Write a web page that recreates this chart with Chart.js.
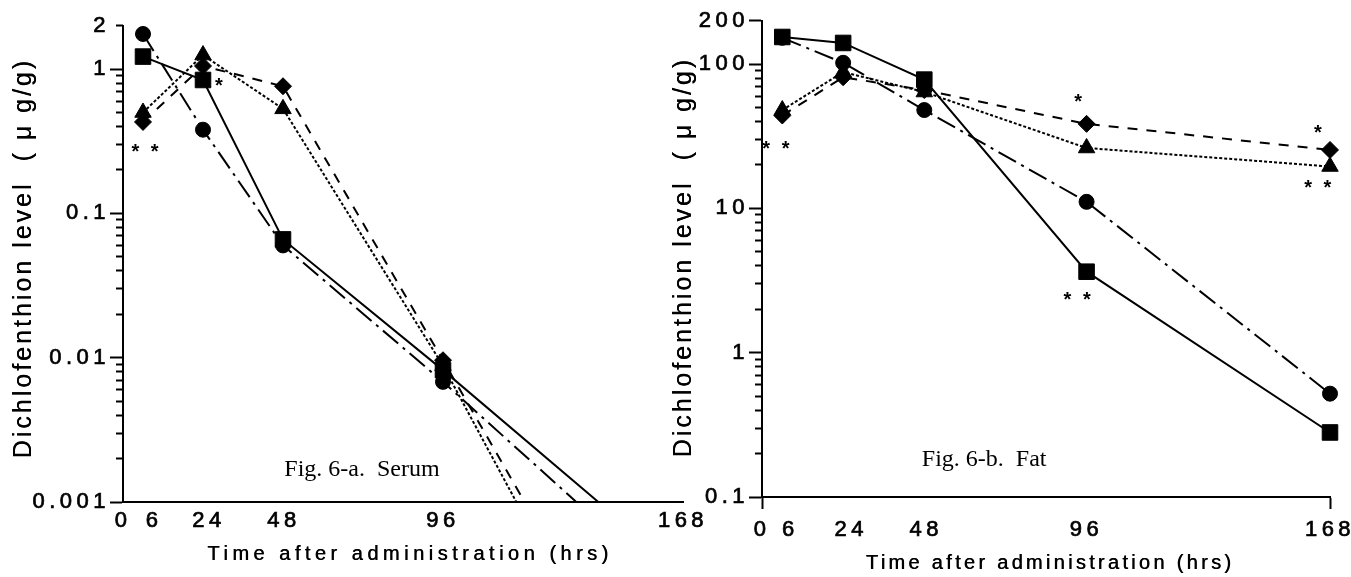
<!DOCTYPE html>
<html><head><meta charset="utf-8">
<script src="https://cdn.jsdelivr.net/npm/chart.js@4.4.1/dist/chart.umd.min.js"></script>
<style>
html,body{margin:0;padding:0;background:#fff;width:1351px;height:577px;overflow:hidden;position:relative}
#wa{position:absolute;left:0;top:0;width:720px;height:577px}
#wb{position:absolute;left:660px;top:0;width:720px;height:577px}
canvas{display:block}
</style></head><body>
<div id="wa"><canvas id="ca" width="720" height="577"></canvas></div>
<div id="wb"><canvas id="cb" width="720" height="577"></canvas></div>
<script>
// ---------------- data ----------------
const xTickLabels = [0, 6, 24, 48, 96, 168];

// Fig. 6-a  Serum (ug/g)
const serumHours    = [6, 24, 48, 96];
const serumSquare   = [1.22, 0.84, 0.066, 0.0082];
const serumCircle   = [1.75, 0.38, 0.060, 0.0068];
const serumTriangle = [0.50, 1.25, 0.53, 0.0088];
const serumDiamond  = [0.43, 1.05, 0.76, 0.0096];
// hour at which each serum line runs out through the 0.001 floor
const serumExitHour = {square: 142.6, circle: 136, triangle: 118, diamond: 120.5};
const serumFloor = 0.001;
const serumYTicks = [2, 1, 0.1, 0.01, 0.001];
const serumYMajor = [1, 0.1, 0.01, 0.001];

// Fig. 6-b  Fat (ug/g)
const fatHours    = [6, 24, 48, 96, 168];
const fatSquare   = [154, 140, 78, 3.64, 0.28];
const fatCircle   = [152, 102, 48, 11.1, 0.52];
const fatTriangle = [48, 88, 64, 26.2, 19.5];
const fatDiamond  = [44, 81, 66, 38.5, 25.4];
const fatYTicks = [200, 100, 10, 1, 0.1];
const fatYMajor = [200, 100, 10, 1, 0.1];

// significance marks (text, hour, level)
const serumMarks = [['* *', 6.6, 0.284], ['*', 28.8, 0.813]];
const fatMarks = [['* *', 4.1, 27.5], ['*', 93.5, 58], ['*', 164.4, 35.5], ['* *', 164.4, 14.7], ['* *', 93.2, 2.47]];
const serumCaption = ['Fig. 6-a.  Serum', 71.7, 0.00167];
const fatCaption = ['Fig. 6-b.  Fat', 65.7, 0.18];

// ---------------- styles ----------------
const FONT = '"Liberation Sans", Arial, sans-serif';
const STYLE = {
  square:   {point: 'rect',     r: 11,  dash: []},
  circle:   {point: 'circle',   r: 7.5, dash: [20, 6, 3, 6]},
  triangle: {point: 'triangle', r: 9.5, dash: [3, 2]},
  diamond:  {point: 'rectRot',  r: 8.5, dash: [10, 9]}
};
// per-chart text tweaks: title letter spacing / shift, tick-label nudges (px)
const TEXT = {
  'ca:x': {spacing: 4.5, dx: 7, dy: 0, nudge: {6: 11, 24: 6, 48: 1}},
  'ca:y': {spacing: 3, dx: 0, dy: -6},
  'cb:x': {spacing: 3.3, dx: 4, dy: 0, nudge: {6: 8, 24: 8, 48: 2}},
  'cb:y': {spacing: 3, dx: 0, dy: -2}
};
function tw(scale) { return TEXT[scale.chart.canvas.id + ':' + scale.id]; }

const _drawTitle = Chart.Scale.prototype.drawTitle;
Chart.Scale.prototype.drawTitle = function (...a) {
  const t = tw(this);
  if (!t) return _drawTitle.apply(this, a);
  const c = this.ctx;
  c.save();
  c.letterSpacing = t.spacing + 'px';
  c.translate(t.dx, t.dy);
  _drawTitle.apply(this, a);
  c.translate(0.5, 0.3);
  _drawTitle.apply(this, a);
  c.restore();
};
const _cli = Chart.Scale.prototype._computeLabelItems;
Chart.Scale.prototype._computeLabelItems = function (...a) {
  const items = _cli.apply(this, a);
  const t = tw(this);
  if (t && t.nudge) {
    try {
      items.forEach((it, i) => {
        const d = t.nudge[this.ticks[i] && this.ticks[i].value];
        if (d && it.options && it.options.translation) it.options.translation[0] += d;
      });
    } catch (e) {}
  }
  return items;
};

function series(key, hours, values, exitHour, floor) {
  const st = STYLE[key];
  const pts = hours.map((h, i) => ({x: h, y: values[i]}));
  const hasExit = exitHour !== undefined;
  if (hasExit) pts.push({x: exitHour, y: floor});
  const n = pts.length;
  return {
    label: key, data: pts, borderColor: '#000', backgroundColor: '#000', borderWidth: 2,
    borderDash: st.dash, pointStyle: st.point,
    pointRadius: c => (hasExit && c.dataIndex === n - 1) ? 0 : st.r,
    pointBorderWidth: 1, pointBackgroundColor: '#000', pointBorderColor: '#000',
    tension: 0, fill: false, clip: false
  };
}

function minorTicks(min, max, exclude) {
  const out = [];
  for (let e = Math.floor(Math.log10(min)); e <= Math.ceil(Math.log10(max)); e++) {
    for (let m = 1; m <= 9; m++) {
      const v = +(m * Math.pow(10, e)).toPrecision(6);
      if (v >= min * 0.999 && v <= max * 1.001 && !exclude.some(x => Math.abs(x - v) / v < 1e-6)) out.push(v);
    }
  }
  return out;
}

const notesPlugin = {
  id: 'notes',
  beforeUpdate(chart) { chart.ctx.letterSpacing = '4.5px'; },
  beforeDraw(chart) { chart.ctx.letterSpacing = '4.5px'; },
  afterDraw(chart, args, opts) {
    const ctx = chart.ctx, xs = chart.scales.x, ys = chart.scales.y;
    ctx.save();
    ctx.fillStyle = '#000';
    ctx.letterSpacing = '0px';
    ctx.font = '24px "Liberation Serif", "Times New Roman", serif';
    ctx.textAlign = 'center'; ctx.textBaseline = 'middle';
    const cap = opts.caption;
    ctx.fillText(cap[0], xs.getPixelForValue(cap[1]), ys.getPixelForValue(cap[2]));
    ctx.letterSpacing = '3px';
    ctx.font = 'bold 20px ' + FONT;
    ctx.textBaseline = 'alphabetic';
    for (const mk of opts.marks) {
      const m = ctx.measureText(mk[0]);
      const yc = ys.getPixelForValue(mk[2]) + (m.actualBoundingBoxAscent - m.actualBoundingBoxDescent) / 2;
      ctx.fillText(mk[0], xs.getPixelForValue(mk[1]) + 1.5, yc);
    }
    ctx.restore();
  }
};

function makeChart(id, cfg) {
  return new Chart(document.getElementById(id), {
    type: 'line',
    data: {datasets: cfg.datasets},
    plugins: [notesPlugin],
    options: {
      responsive: false, animation: false, maintainAspectRatio: false,
      layout: {padding: {left: 0, right: cfg.padRight, top: cfg.padTop, bottom: 0}},
      plugins: {legend: {display: false}, tooltip: {enabled: false},
                notes: {marks: cfg.marks, caption: cfg.caption}},
      scales: {
        x: {
          type: 'linear', min: 0, max: 168, position: 'bottom',
          afterBuildTicks: s => { s.ticks = xTickLabels.map(v => ({value: v})); },
          afterFit: s => { s.height = cfg.xAxisHeight; },
          ticks: {autoSkip: false, maxRotation: 0, minRotation: 0, padding: cfg.xTickPad, color: '#000',
                  textStrokeColor: '#000', textStrokeWidth: 0.7,
                  font: {family: FONT, size: 22}, callback: v => String(v)},
          grid: {display: true, drawOnChartArea: false, drawTicks: true, tickLength: cfg.xTickLen, tickWidth: 2,
                 tickColor: c => (c.tick && cfg.xTickMarks.includes(c.tick.value)) ? '#000' : 'rgba(0,0,0,0)'},
          border: {display: true, color: '#000', width: 2},
          title: {display: true, text: 'Time after administration (hrs)', color: '#000',
                  font: {family: FONT, size: 20}, padding: {top: 0, bottom: cfg.xTitlePad}}
        },
        y: {
          type: 'logarithmic', position: 'left', weight: 1, min: cfg.yMin, max: cfg.yMax,
          afterBuildTicks: s => { s.ticks = cfg.yLabels.map(v => ({value: v})); },
          afterFit: s => { s.width = cfg.yAxisWidth; },
          ticks: {padding: cfg.yTickPad, color: '#000', font: {family: FONT, size: 22},
                  textStrokeColor: '#000', textStrokeWidth: 0.7,
                  callback: v => cfg.yLabels.includes(v) ? String(v) : ''},
          grid: {display: true, drawOnChartArea: false, drawTicks: true, tickLength: 13, tickWidth: 2,
                 tickColor: c => (c.tick && cfg.yMajor.includes(c.tick.value)) ? '#000' : 'rgba(0,0,0,0)'},
          border: {display: true, color: '#000', width: 2},
          title: {display: true, text: 'Dichlofenthion level  ( μ g/g)', color: '#000',
                  font: {family: FONT, size: 25}, padding: {top: cfg.yTitlePad, bottom: 0}}
        },
        yMinor: {
          type: 'logarithmic', position: 'left', weight: 0, min: cfg.yMin, max: cfg.yMax,
          afterBuildTicks: s => { s.ticks = minorTicks(cfg.yMin, cfg.yMax, cfg.yMajor).map(v => ({value: v})); },
          afterFit: s => { s.width = 0; },
          ticks: {display: false},
          grid: {display: true, drawOnChartArea: false, drawTicks: true, tickLength: 7, tickWidth: 2, tickColor: '#000'},
          border: {display: false}
        }
      }
    }
  });
}

makeChart('ca', {
  datasets: [
    series('square', serumHours, serumSquare, serumExitHour.square, serumFloor),
    series('circle', serumHours, serumCircle, serumExitHour.circle, serumFloor),
    series('triangle', serumHours, serumTriangle, serumExitHour.triangle, serumFloor),
    series('diamond', serumHours, serumDiamond, serumExitHour.diamond, serumFloor)
  ],
  yMin: 0.001, yMax: 2, yLabels: serumYTicks, yMajor: serumYMajor,
  padRight: 37, padTop: 25.6, yAxisWidth: 123, xAxisHeight: 75,
  xTickPad: 6, xTickLen: 0, xTickMarks: [], xTitlePad: 11, yTickPad: 0, yTitlePad: 9,
  marks: serumMarks, caption: serumCaption
});

makeChart('cb', {
  datasets: [
    series('square', fatHours, fatSquare),
    series('circle', fatHours, fatCircle),
    series('triangle', fatHours, fatTriangle),
    series('diamond', fatHours, fatDiamond)
  ],
  yMin: 0.1, yMax: 200, yLabels: fatYTicks, yMajor: fatYMajor,
  padRight: 50, padTop: 20.6, yAxisWidth: 102, xAxisHeight: 80,
  xTickPad: 8, xTickLen: 12, xTickMarks: [0, 168], xTitlePad: 2, yTickPad: 0, yTitlePad: 9,
  marks: fatMarks, caption: fatCaption
});
</script>
</body></html>
